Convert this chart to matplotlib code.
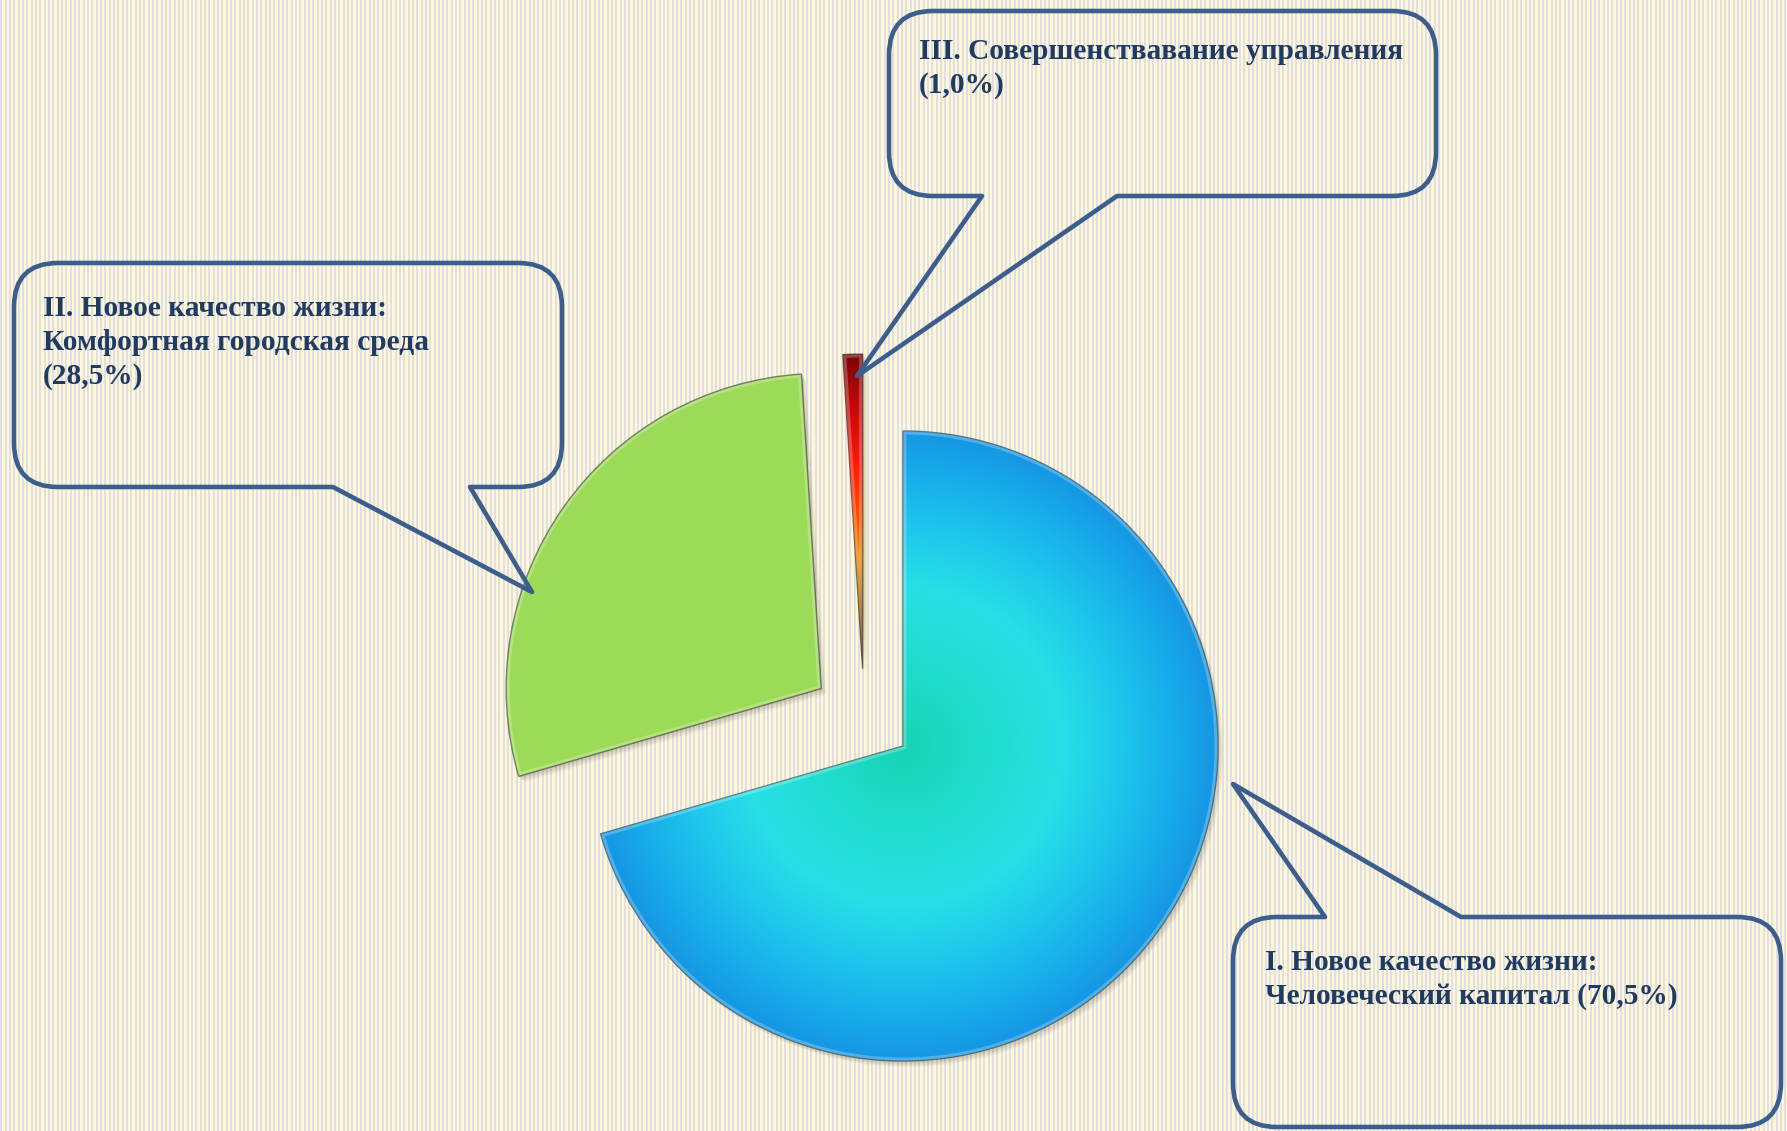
import numpy as np
import matplotlib
matplotlib.use('Agg')
import matplotlib.pyplot as plt
from matplotlib.path import Path
from matplotlib.patches import PathPatch, Wedge
from matplotlib.colors import LinearSegmentedColormap

# Data
names = ['I. Новое качество жизни:\nЧеловеческий капитал',
         'II. Новое качество жизни:\nКомфортная городская среда',
         'III. Совершенствавание управления']
shares = [70.5, 28.5, 1.0]
pct_sep = [' ', '\n', '\n']

W, H = 1787, 1131
fig = plt.figure(figsize=(W / 100, H / 100), dpi=100)

# striped background
x = np.arange(W)
lav = (x % 4.33) < 2.0
row = np.where(lav[:, None], [0.886, 0.866, 0.945], [1.0, 0.984, 0.80])
bg = np.broadcast_to(row, (H, W, 3)).copy()
fig.figimage(bg, xo=0, yo=0, zorder=-1)

ax = fig.add_axes([0, 0, 1, 1])
ax.set_facecolor('none')
ax.axis('off')

# Pie (pixel coords, y down)
cx, cy, R = 903, 746, 315
explode = [0, 100, 77]
wedges, _ = ax.pie(shares, radius=R, center=(cx, cy), startangle=270,
                   counterclock=True, explode=explode,
                   colors=['#1aa0e8', '#9cdb58', '#c00808'],
                   wedgeprops=dict(linewidth=1.0, edgecolor=(0.15, 0.15, 0.1, 0.35)))
# small sliver sits a bit left of its exploded spot
c = wedges[2].center
wedges[2].set_center((c[0] - 38, c[1]))

blue_cmap = LinearSegmentedColormap.from_list('blue', [
    (0.0, '#16d4b4'), (0.25, '#20dccc'), (0.5, '#28e0e6'),
    (0.7, '#1ec6ec'), (0.88, '#17aaea'), (1.0, '#1696e4')])
red_cmap = LinearSegmentedColormap.from_list('red', [
    (0.0, '#4a3c12'), (0.15, '#7a5a10'), (0.35, '#e88a00'), (0.5, '#ff4a00'),
    (0.65, '#ff1a0a'), (0.85, '#c00808'), (1.0, '#7a0606')])

# soft shadows
for w in wedges:
    for k in range(1, 7):
        sh = Wedge((w.center[0] + 0.8 * k, w.center[1] + 1.0 * k), R, w.theta1, w.theta2,
                   facecolor=(0.2, 0.2, 0.15, 0.045), edgecolor='none', zorder=0.5)
        ax.add_patch(sh)


def radial_fill(w, cmap):
    wx, wy = w.center
    xs = np.arange(wx - R, wx + R + 1)
    ys = np.arange(wy - R, wy + R + 1)
    X, Y = np.meshgrid(xs, ys)
    r = np.hypot(X - wx, Y - wy) / R
    im = ax.imshow(r, cmap=cmap, vmin=0, vmax=1, origin='lower',
                   extent=(xs[0], xs[-1], ys[0], ys[-1]),
                   interpolation='bilinear', zorder=1.5)
    im.set_clip_path(w)


radial_fill(wedges[0], blue_cmap)
radial_fill(wedges[2], red_cmap)

# bevel highlight + outline
for w in wedges:
    hl = Wedge(w.center, R, w.theta1, w.theta2, fill=False,
               edgecolor=(1, 1, 1, 0.25), linewidth=5, zorder=1.8)
    ax.add_patch(hl)
    hl.set_clip_path(w)
    ol = Wedge(w.center, R, w.theta1, w.theta2, fill=False,
               edgecolor=(0.2, 0.2, 0.12, 0.35), linewidth=1.0, zorder=1.9)
    ax.add_patch(ol)

# Callouts
boxes = [(1233, 917, 1781, 1127), (14, 263, 562, 487), (889, 11, 1436, 196)]
tails = [(1325, 1461), (333, 470), (982, 1117)]
tips = [(1233, 784), (532, 592), (857, 376)]
sides = ['top', 'bottom', 'bottom']
text_pos = [(1265, 970), (43, 316), (919, 59)]
line_step = 34


def callout_path(box, tail, tip, side, k=44):
    l, t, r, b = box
    v = [(l + k, t)]
    cd = [Path.MOVETO]
    if side == 'top':
        v += [(tail[0], t), tip, (tail[1], t)]
        cd += [Path.LINETO] * 3
    v += [(r - k, t), (r, t), (r, t + k), (r, b - k), (r, b), (r - k, b)]
    cd += [Path.LINETO, Path.CURVE3, Path.CURVE3, Path.LINETO, Path.CURVE3, Path.CURVE3]
    if side == 'bottom':
        v += [(tail[1], b), tip, (tail[0], b)]
        cd += [Path.LINETO] * 3
    v += [(l + k, b), (l, b), (l, b - k), (l, t + k), (l, t), (l + k, t)]
    cd += [Path.LINETO, Path.CURVE3, Path.CURVE3, Path.LINETO, Path.CURVE3, Path.CURVE3]
    v.append((l + k, t))
    cd.append(Path.CLOSEPOLY)
    return Path(v, cd)


for i in range(len(shares)):
    p = callout_path(boxes[i], tails[i], tips[i], sides[i])
    ax.add_patch(PathPatch(p, facecolor='none', edgecolor='#3b5e8d', linewidth=3.3,
                           joinstyle='round', zorder=3))
    label = names[i] + pct_sep[i] + '(' + f'{shares[i]:.1f}'.replace('.', ',') + '%)'
    tx, ty = text_pos[i]
    for j, line in enumerate(label.split('\n')):
        ax.text(tx, ty + j * line_step, line, fontsize=21.2, fontweight='bold',
                family=['Liberation Serif', 'DejaVu Serif'], color='#1f3b62',
                ha='left', va='baseline', zorder=4)

ax.set_xlim(0, W)
ax.set_ylim(H, 0)
ax.set_aspect('auto')

fig.savefig('out.png', dpi=100)
